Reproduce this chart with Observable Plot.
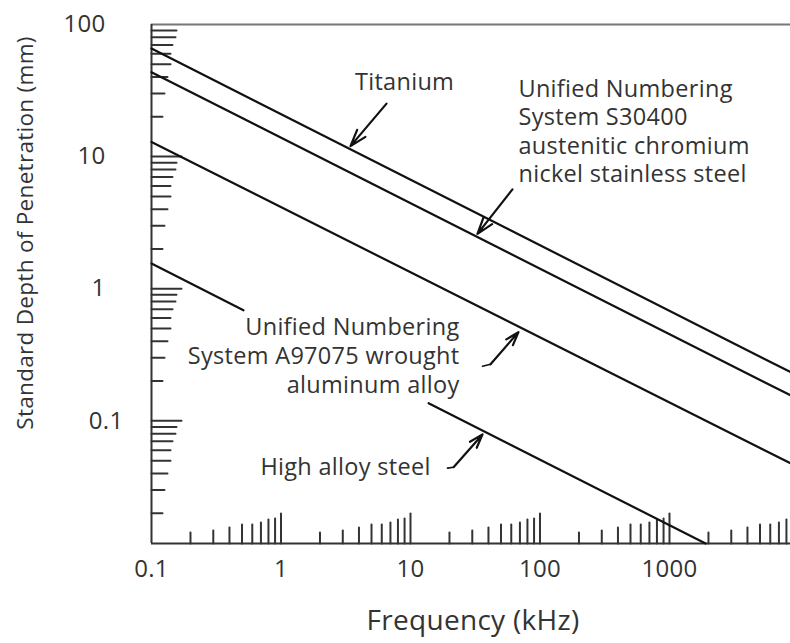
<!DOCTYPE html>
<html><head><meta charset="utf-8">
<script src="https://cdn.jsdelivr.net/npm/d3@7"></script>
<script src="https://cdn.jsdelivr.net/npm/@observablehq/plot@0.6"></script>
<style>
body{margin:0;background:#fff}
svg text{letter-spacing:0.3px}
</style></head><body><div id="chart"></div>
<script>
// ---- data ----
const titanium = [[0.1, 65.8], [8600, 0.234]];
const s30400 = [[0.1, 43.5], [8600, 0.156]];
const a97075 = [[0.1, 12.9], [8600, 0.0478]];
const highAlloyA = [[0.1, 1.55], [0.513, 0.687]];
const highAlloyB = [[13.8, 0.136], [1900, 0.0118]];
const xDomain = [0.1, 8600];
const yDomain = [0.0118, 100];
const xTickLabels = [0.1, 1, 10, 100, 1000];
const yTickLabels = [100, 10, 1];
const yTickLabelsShifted = [0.1];
const xDecades = [0.1, 1, 10, 100, 1000];
const yDecades = [0.01, 0.1, 1, 10];
const multipliers = [2, 3, 4, 5, 6, 7, 8, 9, 10];
// annotation anchors (frequency kHz, depth mm)
const labelTitanium = [{f: 9.0, d: 36.4, t: "Titanium"}];
const labelS30400 = [{f: 68.2, d: 15.8, t: "Unified Numbering\nSystem S30400\naustenitic chromium\nnickel stainless steel"}];
const labelA97075 = [{f: 23.9, d: 0.319, t: "Unified Numbering\nSystem A97075 wrought\naluminum alloy"}];
const labelHighAlloy = [{f: 14.3, d: 0.0446, t: "High alloy steel"}];
const arrows = [
  {f1: 6.53, d1: 25.2, f2: 3.44, d2: 12.0},
  {f1: 61.3, d1: 5.65, f2: 32.9, d2: 2.6},
  {f1: 41.5, d1: 0.268, f2: 68.2, d2: 0.47},
  {f1: 21.5, d1: 0.0446, f2: 36.0, d2: 0.079}
];
const arrowHooks = [
  [[36.0, 0.259], [41.5, 0.268]],
  [[19.3, 0.0439], [21.5, 0.0446]]
];

// ---- styles ----
const tickLen = {2: 11, 3: 13, 4: 16, 5: 19, 6: 19, 7: 21, 8: 24, 9: 25, 10: 30};
const ink = "#333";
const FS_TICK = 24, FS_NOTE = 23.5, FS_X = 28, FS_Y = 22.5;

const xTicks = xDecades.flatMap(d => multipliers.map(m => ({v: d * m, len: tickLen[m]})))
  .filter(t => t.v < xDomain[1]);
const yTicks = yDecades.flatMap(d => multipliers.map(m => ({v: d * m, len: tickLen[m]})))
  .filter(t => t.v < 99 && t.v > yDomain[0]);

const lineShape = {draw(ctx, l) { ctx.moveTo(0, 0); ctx.lineTo(0, -l); }};

const seg = (pts, name) => pts.map(([f, d]) => ({f, d, name}));
const lineData = [
  ...seg(titanium, "ti"), ...seg(s30400, "s3"), ...seg(a97075, "a9"),
  ...seg(highAlloyA, "ha1"), ...seg(highAlloyB, "ha2")
];
const hookData = arrowHooks.flatMap((h, i) => seg(h, "h" + i));

const chart = Plot.plot({
  width: 790, height: 643,
  marginLeft: 151, marginRight: 0, marginTop: 24, marginBottom: 100,
  x: {type: "log", domain: xDomain, axis: null},
  y: {type: "log", domain: yDomain, axis: null},
  length: {type: "identity"},
  style: {fontFamily: "'Open Sans', sans-serif", color: ink, background: "#fff", overflow: "visible"},
  marks: [
    Plot.ruleY([100], {stroke: "#777", strokeWidth: 2}),
    Plot.ruleY([yDomain[0]], {stroke: ink, strokeWidth: 2}),
    Plot.ruleX([0.1], {stroke: ink, strokeWidth: 2}),
    Plot.vector(xTicks, {x: "v", y: yDomain[0], length: "len", rotate: 0, anchor: "start", shape: lineShape, stroke: ink, strokeWidth: 2}),
    Plot.vector(yTicks, {x: 0.1, y: "v", length: "len", rotate: 90, anchor: "start", shape: lineShape, stroke: ink, strokeWidth: 2}),
    Plot.line(lineData, {x: "f", y: "d", z: "name", stroke: "#111", strokeWidth: 2.2}),
    Plot.line(hookData, {x: "f", y: "d", z: "name", stroke: "#111", strokeWidth: 1.6}),
    Plot.arrow(arrows, {x1: "f1", y1: "d1", x2: "f2", y2: "d2", stroke: "#111", strokeWidth: 2.2, headLength: 12, headAngle: 36}),
    Plot.text(xTickLabels, {x: d => d, frameAnchor: "bottom", dy: 33, text: d => String(d), fontSize: FS_TICK, fill: ink}),
    Plot.text(yTickLabels, {y: d => d, frameAnchor: "left", textAnchor: "end", dx: -46, text: d => String(d), fontSize: FS_TICK, fill: ink}),
    Plot.text(yTickLabelsShifted, {y: d => d, frameAnchor: "left", textAnchor: "end", dx: -28, text: d => String(d), fontSize: FS_TICK, fill: ink}),
    Plot.text(["Standard Depth of Penetration (mm)"], {frameAnchor: "left", textAnchor: "middle", dx: -126, dy: -51, rotate: -90, fontSize: FS_Y, fill: ink}),
    Plot.text(["Frequency (kHz)"], {frameAnchor: "bottom", dx: 2, dy: 86, fontSize: FS_X, fill: ink}),
    Plot.text(labelTitanium, {x: "f", y: "d", text: "t", fontSize: FS_NOTE, fill: ink}),
    Plot.text(labelS30400, {x: "f", y: "d", text: "t", textAnchor: "start", lineHeight: 28.5 / FS_NOTE, fontSize: FS_NOTE, fill: ink}),
    Plot.text(labelA97075, {x: "f", y: "d", text: "t", textAnchor: "end", lineHeight: 29 / FS_NOTE, fontSize: FS_NOTE, fill: ink}),
    Plot.text(labelHighAlloy, {x: "f", y: "d", text: "t", textAnchor: "end", fontSize: FS_NOTE, fill: ink})
  ]
});
document.getElementById("chart").appendChild(chart);
</script></body></html>
